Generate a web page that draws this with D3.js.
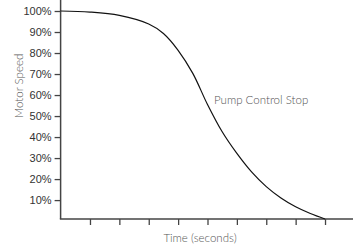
<!DOCTYPE html>
<html>
<head>
<meta charset="utf-8">
<script src="https://cdn.jsdelivr.net/npm/d3@7"></script>
<style>
  html, body { margin: 0; padding: 0; background: #fff; }
  svg { display: block; }
  .tick-label { font-family: "Liberation Sans", Arial, sans-serif; font-size: 11px; fill: #333; }
  .soft { font-family: Lato, "Open Sans", sans-serif; font-weight: 300; font-size: 11.5px; fill: #555; }
</style>
</head>
<body>
<svg id="chart" width="353" height="245"></svg>
<script>
// stop curve
const time  = [0, 1, 2, 3, 3.5, 4, 4.5, 5, 5.5, 6, 6.5, 7, 7.5, 8, 8.5, 9];
const speed = [100, 99.5, 97.9, 93.8, 89.3, 81.3, 70.3, 55.5, 42.5, 32.2, 23.4, 16.4, 11, 6.8, 3.6, 1];
const yTicks = [10, 20, 30, 40, 50, 60, 70, 80, 90, 100];
const xTicks = [1, 2, 3, 4, 5, 6, 7, 8, 9];
const curveLabel = "Pump Control Stop";

const svg = d3.select('#chart');
const x = d3.scaleLinear().domain([0, 10]).range([60.6, 354.4]);
const y = d3.scaleLinear().domain([1, 100]).range([219, 11]);

// axes
const axisColor = '#444';
const yAxis = svg.append('g').attr('transform', `translate(${x(0)},0)`)
  .call(d3.axisLeft(y).tickValues(yTicks).tickSize(6).tickPadding(3).tickFormat(d => d + '%'));
yAxis.select('.domain').remove();
yAxis.selectAll('line').attr('stroke', axisColor).attr('stroke-width', 1.3);
yAxis.selectAll('text').attr('class', 'tick-label').attr('font-size', null).attr('font-family', null).attr('fill', null);

const xAxis = svg.append('g').attr('transform', `translate(0,${y(1)})`)
  .call(d3.axisBottom(x).tickValues(xTicks).tickSize(6).tickFormat(''));
xAxis.select('.domain').remove();
xAxis.selectAll('line').attr('stroke', axisColor).attr('stroke-width', 1.3);

svg.append('line').attr('x1', x(0)).attr('x2', x(0)).attr('y1', 0).attr('y2', y(1))
  .attr('stroke', axisColor).attr('stroke-width', 1.5);
svg.append('line').attr('x1', x(0) - 0.75).attr('x2', 353).attr('y1', y(1)).attr('y2', y(1))
  .attr('stroke', axisColor).attr('stroke-width', 1.5);

// curve
const pts = time.map((t, i) => [t, speed[i]]);
svg.append('path').datum(pts)
  .attr('fill', 'none').attr('stroke', '#111').attr('stroke-width', 1.2)
  .attr('d', d3.line().x(d => x(d[0])).y(d => y(d[1])).curve(d3.curveCatmullRom));

// labels
svg.append('text').attr('class', 'soft').attr('x', 214).attr('y', 104).text(curveLabel);
svg.append('text').attr('class', 'soft').attr('text-anchor', 'middle')
  .attr('x', 200).attr('y', 242).text('Time (seconds)');
svg.append('text').attr('class', 'soft').attr('text-anchor', 'middle')
  .attr('transform', 'translate(23,86) rotate(-90)').text('Motor Speed');
</script>
</body>
</html>
